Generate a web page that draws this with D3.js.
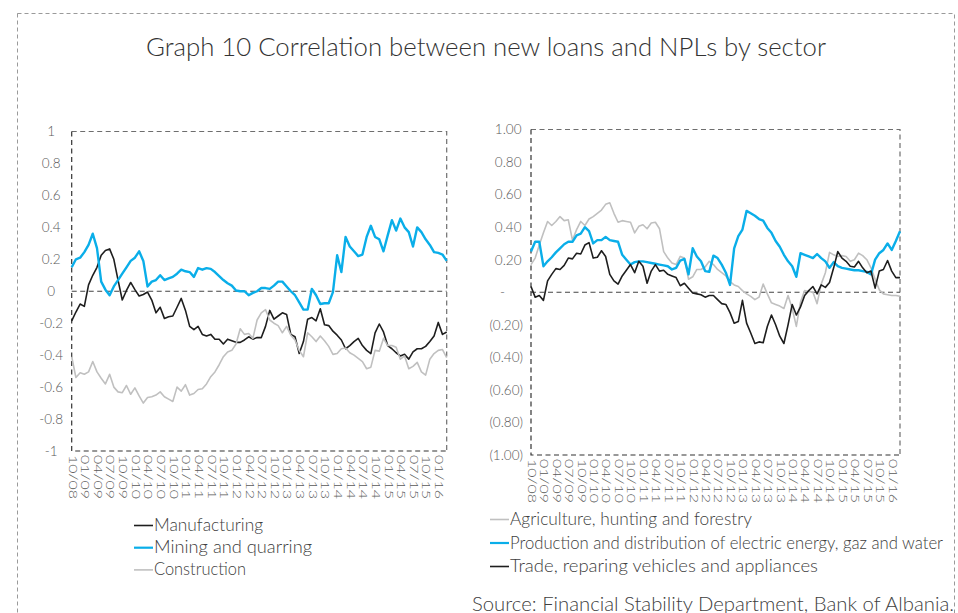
<!DOCTYPE html>
<html>
<head>
<meta charset="utf-8">
<script src="https://cdn.jsdelivr.net/npm/d3@7"></script>
<style>
  html, body { margin: 0; padding: 0; background: #ffffff; }
  svg { display: block; font-family: Lato, "Open Sans", sans-serif; }
</style>
</head>
<body>
<svg id="chart" width="958" height="613"></svg>
<script>
// Monthly correlation series, October 2008 - March 2016
const tickLabels = ["10/08","01/09","04/09","07/09","10/09","01/10","04/10","07/10","10/10",
  "01/11","04/11","07/11","10/11","01/12","04/12","07/12","10/12","01/13","04/13","07/13",
  "10/13","01/14","04/14","07/14","10/14","01/15","04/15","07/15","10/15","01/16"];

const manufacturing = [-0.185,-0.13,-0.08,-0.095,0.04,0.10,0.15,0.225,0.255,0.265,0.20,0.07,
  -0.055,0.005,0.055,0.01,-0.03,-0.02,-0.005,-0.055,-0.135,-0.10,-0.17,-0.16,-0.155,-0.10,
  -0.045,-0.12,-0.22,-0.24,-0.22,-0.27,-0.28,-0.27,-0.30,-0.30,-0.33,-0.30,-0.31,-0.32,-0.32,
  -0.305,-0.285,-0.30,-0.29,-0.29,-0.22,-0.12,-0.175,-0.155,-0.135,-0.145,-0.27,-0.285,-0.39,
  -0.315,-0.175,-0.165,-0.185,-0.11,-0.21,-0.215,-0.25,-0.275,-0.305,-0.36,-0.34,-0.315,
  -0.295,-0.34,-0.37,-0.39,-0.26,-0.205,-0.255,-0.34,-0.36,-0.385,-0.405,-0.395,-0.425,-0.38,
  -0.36,-0.36,-0.345,-0.315,-0.28,-0.195,-0.27,-0.255];

const mining = [0.15,0.20,0.21,0.245,0.29,0.36,0.27,0.06,0.01,-0.025,0.03,0.07,0.11,0.15,0.19,
  0.21,0.25,0.19,0.03,0.06,0.07,0.10,0.07,0.08,0.09,0.11,0.135,0.125,0.12,0.09,0.145,0.135,
  0.145,0.14,0.12,0.095,0.07,0.05,0.035,0.005,0.0,0.0,-0.025,-0.01,0.0,0.02,0.02,0.015,0.035,
  0.06,0.06,0.03,0.0,-0.025,-0.07,-0.115,-0.115,0.015,-0.025,-0.08,-0.075,-0.075,-0.005,0.225,
  0.12,0.34,0.28,0.25,0.22,0.23,0.34,0.41,0.34,0.325,0.25,0.35,0.445,0.38,0.455,0.40,0.37,
  0.28,0.40,0.37,0.325,0.29,0.245,0.24,0.23,0.19];

const construction = [-0.41,-0.54,-0.51,-0.52,-0.505,-0.44,-0.505,-0.545,-0.58,-0.52,-0.60,
  -0.63,-0.635,-0.59,-0.645,-0.605,-0.655,-0.70,-0.665,-0.66,-0.65,-0.63,-0.66,-0.675,-0.69,
  -0.60,-0.625,-0.585,-0.65,-0.64,-0.615,-0.61,-0.58,-0.535,-0.505,-0.46,-0.41,-0.38,-0.37,
  -0.33,-0.235,-0.27,-0.265,-0.295,-0.18,-0.135,-0.115,-0.18,-0.20,-0.215,-0.26,-0.22,-0.275,
  -0.305,-0.37,-0.41,-0.26,-0.285,-0.315,-0.28,-0.31,-0.345,-0.395,-0.39,-0.36,-0.355,-0.385,
  -0.40,-0.42,-0.44,-0.485,-0.475,-0.37,-0.375,-0.295,-0.34,-0.34,-0.35,-0.425,-0.405,-0.485,
  -0.47,-0.445,-0.505,-0.525,-0.425,-0.39,-0.37,-0.365,-0.415];

const agriculture = [0.17,0.21,0.29,0.365,0.435,0.41,0.435,0.465,0.44,0.445,0.32,0.385,0.435,
  0.41,0.45,0.465,0.485,0.505,0.54,0.55,0.485,0.43,0.44,0.435,0.43,0.365,0.405,0.415,0.39,
  0.425,0.43,0.39,0.25,0.21,0.18,0.17,0.22,0.21,0.08,0.095,0.14,0.14,0.155,0.19,0.17,0.14,
  0.12,0.10,0.065,0.045,0.035,0.01,-0.01,-0.025,-0.045,-0.03,0.05,-0.01,-0.065,-0.075,-0.085,
  -0.10,-0.02,-0.10,-0.21,-0.06,0.01,0.005,0.0,-0.07,0.05,0.12,0.245,0.23,0.22,0.225,0.22,
  0.19,0.20,0.24,0.225,0.20,0.15,0.08,0.015,-0.01,-0.015,-0.02,-0.02,-0.025];

const energyGasWater = [0.25,0.31,0.31,0.16,0.19,0.215,0.245,0.27,0.295,0.31,0.31,0.35,0.36,
  0.40,0.375,0.30,0.32,0.32,0.34,0.32,0.315,0.31,0.23,0.20,0.17,0.185,0.19,0.19,0.185,0.18,
  0.175,0.17,0.165,0.16,0.14,0.15,0.195,0.205,0.11,0.27,0.22,0.19,0.13,0.125,0.225,0.21,0.17,
  0.12,0.045,0.27,0.345,0.385,0.50,0.485,0.47,0.45,0.44,0.395,0.365,0.315,0.28,0.23,0.19,
  0.16,0.095,0.24,0.23,0.22,0.21,0.235,0.21,0.19,0.15,0.185,0.16,0.15,0.145,0.14,0.135,0.135,
  0.13,0.125,0.11,0.20,0.24,0.26,0.30,0.26,0.315,0.375];

const trade = [0.035,-0.03,-0.02,-0.05,0.07,0.11,0.145,0.14,0.165,0.21,0.205,0.24,0.235,0.29,
  0.305,0.21,0.215,0.255,0.22,0.11,0.07,0.05,0.10,0.135,0.17,0.12,0.19,0.16,0.055,0.13,0.17,
  0.13,0.135,0.11,0.10,0.09,0.04,0.055,0.025,-0.005,-0.01,-0.015,-0.03,-0.02,-0.02,-0.045,
  -0.07,-0.075,-0.125,-0.19,-0.18,-0.05,-0.19,-0.25,-0.315,-0.305,-0.31,-0.21,-0.14,-0.2,
  -0.27,-0.315,-0.2,-0.075,-0.14,-0.09,-0.02,0.01,0.035,-0.01,0.045,0.03,0.06,0.15,0.25,0.21,
  0.19,0.16,0.155,0.19,0.15,0.12,0.13,0.025,0.13,0.14,0.195,0.13,0.09,0.09];

const leftTicks = [1,0.8,0.6,0.4,0.2,0,-0.2,-0.4,-0.6,-0.8,-1];
const rightTicks = [1,0.8,0.6,0.4,0.2,0,-0.2,-0.4,-0.6,-0.8,-1];

const monthFmt = d3.timeFormat("%m/%y");
const months = d3.timeMonth.range(new Date(2008, 9, 1), new Date(2016, 3, 1)).map(monthFmt);

const COLORS = { black: "#1e1e1e", blue: "#0aaee9", gray: "#c0c0c0" };
const TEXT = "#595959";
const FONT = "Lato, 'Open Sans', sans-serif";
const PAGE_RIGHT = 950;

const svg = d3.select("#chart");

// Outer dashed box
svg.append("rect")
  .attr("x", 17.5).attr("y", 13.5).attr("width", 937).attr("height", 640)
  .attr("fill", "none").attr("stroke", "#9a9a9a").attr("stroke-width", 1)
  .attr("stroke-dasharray", "4,3");

// Squeeze a text element to a given rendered width. If the font runs much wider
// than that, or would spill past the page edge at its natural size, shrink the
// font size first so that the glyphs are not over-compressed.
function fitWidth(sel, w) {
  const natural = sel.node().getComputedTextLength();
  const x = +sel.attr("x");
  const limit = Math.min(w * 1.08, PAGE_RIGHT - x);
  if (natural > limit) {
    sel.attr("font-size", +sel.attr("font-size") * limit / natural);
  }
  sel.attr("textLength", w).attr("lengthAdjust", "spacingAndGlyphs");
  return sel;
}

// Title
fitWidth(svg.append("text")
  .attr("x", 146).attr("y", 56)
  .attr("font-size", 26).attr("font-weight", 300).attr("fill", "#333333")
  .text("Graph 10 Correlation between new loans and NPLs by sector"), 680);

function drawPanel(cfg) {
  const x = d3.scalePoint().domain(months).range([cfg.x0, cfg.x1]);
  const y = d3.scaleLinear().domain([-1, 1]).range([cfg.yBot, cfg.yTop]);
  const g = svg.append("g");

  // Frame: top and right edges
  g.append("path")
    .attr("d", `M${cfg.x0},${cfg.yTop}H${cfg.x1}V${cfg.yBot}`)
    .attr("fill", "none").attr("stroke", "#6e6e6e").attr("stroke-width", 1.2)
    .attr("stroke-dasharray", "5,3.5");
  // Frame: left and bottom edges
  g.append("path")
    .attr("d", `M${cfg.x0},${cfg.yTop}V${cfg.yBot}H${cfg.x1}`)
    .attr("fill", "none").attr("stroke", "#333333").attr("stroke-width", 1.2)
    .attr("stroke-dasharray", "5,3.5");
  // Zero line
  g.append("line")
    .attr("x1", cfg.x0).attr("x2", cfg.x1).attr("y1", y(0)).attr("y2", y(0))
    .attr("stroke", "#444444").attr("stroke-width", 1.2).attr("stroke-dasharray", "5,3.5");

  // Y axis labels
  const yAxis = g.append("g")
    .attr("transform", `translate(${cfg.x0},0)`)
    .call(d3.axisLeft(y).tickValues(cfg.yTicks).tickSize(0).tickFormat(cfg.yFormat));
  yAxis.select(".domain").remove();
  yAxis.selectAll("text")
    .attr("fill", TEXT).attr("font-size", 13.5).attr("font-weight", 300)
    .attr("font-family", FONT);
  cfg.styleY(yAxis.selectAll(".tick text"));

  // X axis labels, rotated to read downwards
  const quarterly = months.filter((m, i) => i % 3 === 0);
  const xAxis = g.append("g")
    .attr("transform", `translate(0,${cfg.yBot})`)
    .call(d3.axisBottom(x).tickValues(quarterly).tickSize(0)
      .tickFormat((m, i) => tickLabels[i]));
  xAxis.select(".domain").remove();
  xAxis.selectAll(".tick text")
    .attr("fill", TEXT).attr("font-size", 11).attr("font-weight", 300)
    .attr("font-family", FONT)
    .attr("text-anchor", "start")
    .attr("transform", "rotate(90)")
    .attr("x", 4).attr("y", 0).attr("dy", "0.33em")
    .attr("textLength", 44).attr("lengthAdjust", "spacingAndGlyphs");

  // Series lines
  const line = d3.line().x((d, i) => x(months[i])).y(d => y(d));
  cfg.series.forEach(s => {
    g.append("path")
      .datum(s.values)
      .attr("d", line)
      .attr("fill", "none")
      .attr("stroke", s.color)
      .attr("stroke-width", s.width)
      .attr("stroke-linejoin", "round");
  });

  // Legend
  cfg.series.forEach((s, k) => {
    const ly = cfg.legend.y + k * cfg.legend.step;
    g.append("line")
      .attr("x1", cfg.legend.x).attr("x2", cfg.legend.x + 19)
      .attr("y1", ly).attr("y2", ly)
      .attr("stroke", s.color).attr("stroke-width", s.color === COLORS.blue ? 2.2 : 1.6);
    fitWidth(g.append("text")
      .attr("x", cfg.legend.x + 20).attr("y", ly + 5.5)
      .attr("font-size", 18).attr("font-weight", 300).attr("fill", "#404040")
      .text(s.name), s.textWidth);
  });
}

const plainFmt = d3.format("");
drawPanel({
  x0: 71.7, x1: 446.7, yTop: 131.5, yBot: 451,
  yTicks: leftTicks,
  yFormat: v => v === 0 ? "0" : (v < 0 ? "-" + plainFmt(+(-v).toFixed(1)) : plainFmt(+v.toFixed(1))),
  styleY: t => t.attr("text-anchor", "middle").attr("x", -20.5),
  legend: { x: 134, y: 525.5, step: 22.2 },
  series: [
    { name: "Manufacturing", values: manufacturing, color: COLORS.black, width: 1.6, textWidth: 109 },
    { name: "Mining and quarring", values: mining, color: COLORS.blue, width: 2.4, textWidth: 158 },
    { name: "Construction", values: construction, color: COLORS.gray, width: 1.6, textWidth: 92 }
  ]
});

const accFmt = d3.format(".2f");
drawPanel({
  x0: 531, x1: 900, yTop: 129.5, yBot: 455,
  yTicks: rightTicks,
  yFormat: v => v === 0 ? "-" : (v < 0 ? "(" + accFmt(-v) + ")" : accFmt(v)),
  styleY: t => t.attr("text-anchor", "end")
    .attr("x", d => d === 0 ? -26 : (d > 0 ? -9.5 : -8)),
  legend: { x: 490, y: 519.5, step: 23.5 },
  series: [
    { name: "Agriculture, hunting and forestry", values: agriculture, color: COLORS.gray, width: 1.6, textWidth: 242 },
    { name: "Production and distribution of electric energy, gaz and water", values: energyGasWater, color: COLORS.blue, width: 2.4, textWidth: 433 },
    { name: "Trade, reparing vehicles and appliances", values: trade, color: COLORS.black, width: 1.6, textWidth: 308 }
  ]
});

// Source note
fitWidth(svg.append("text")
  .attr("x", 472).attr("y", 610.5)
  .attr("font-size", 19).attr("font-weight", 300).attr("fill", "#404040")
  .text("Source: Financial Stability Department, Bank of Albania."), 482);
</script>
</body>
</html>
